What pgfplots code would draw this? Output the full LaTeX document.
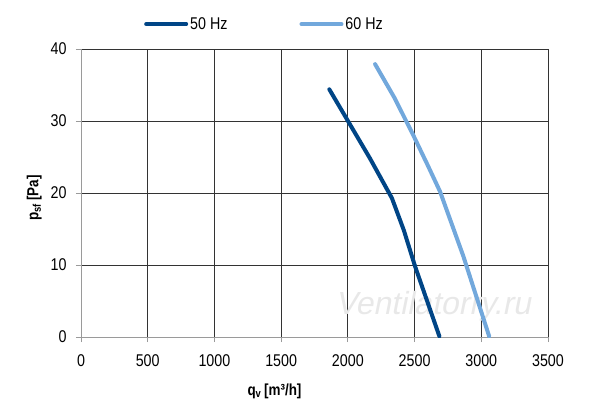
\documentclass[border=0pt]{standalone}
\usepackage{fontspec}
\setmainfont{Liberation Sans}[FakeStretch=0.84]
\newfontfamily\wmfont{Liberation Sans}[FakeSlant=0.2]
\usepackage{pgfplots}
\pgfplotsset{compat=1.18}
\definecolor{darkblue}{HTML}{004586}
\definecolor{lightblue}{HTML}{72A8DC}
\definecolor{gridc}{HTML}{333333}
\definecolor{axc}{HTML}{9A9A9A}
\begin{document}
\begin{tikzpicture}[x=1pt,y=1pt]
\path[use as bounding box] (-81,-76) rectangle (519,337);
\begin{axis}[
  at={(0,0)}, anchor=south west,
  scale only axis, width=467pt, height=288pt,
  xmin=0, xmax=3500, ymin=0, ymax=40,
  xtick={0,500,...,3500}, ytick={0,10,...,40},
  grid=major,
  major grid style={draw=gridc, line width=0.8pt},
  axis line style={draw=axc, line width=0.9pt},
  tick style={draw=axc, line width=0.9pt},
  tick align=outside, major tick length=5pt,
  axis x line*=bottom, axis y line*=left,
  every x tick label/.style={yshift=-9pt},
  every y tick label/.style={xshift=-6pt},
  tick label style={font=\fontsize{17}{20}\selectfont},
  /pgf/number format/assume math mode=true,
  /pgf/number format/1000 sep={},
  xlabel={\textbf{q\textsubscript{v}\,[m³/h]}},
  ylabel={\textbf{p\textsubscript{sf}\,[Pa]}},
  label style={font=\fontsize{16}{19}\selectfont},
  xlabel style={yshift=-10pt, xshift=-40pt},
  ylabel style={yshift=2pt, xshift=-5pt},
  legend style={draw=none, fill=none, at={(0.5,1)}, anchor=south, yshift=14pt, xshift=-50pt,
    legend columns=2, font=\fontsize{17}{20}\selectfont,
    /tikz/every even column/.append style={column sep=70pt}},
  legend image code/.code={\draw[#1, line cap=round] (0pt,0pt) -- (40pt,0pt);},
]
\node[font=\fontsize{32}{36}\selectfont\wmfont, text=gray!18] at (axis cs:2640,4.3) {Ventilatorry.ru};
\addplot[darkblue, line width=4pt, line cap=round, line join=round] coordinates {
(1861,34.4) (2004,29.9) (2166,24.8) (2300,20.3) (2330,19.3) (2420,14.8) (2504,9.8) (2686,0.1)};
\addlegendentry{50 Hz}
\addplot[lightblue, line width=4pt, line cap=round, line join=round] coordinates {
(2204,37.9) (2350,33.2) (2491,28) (2600,23.8) (2691,20.2) (2866,11.2) (3059,0.1)};
\addlegendentry{60 Hz}
\end{axis}
\end{tikzpicture}
\end{document}
